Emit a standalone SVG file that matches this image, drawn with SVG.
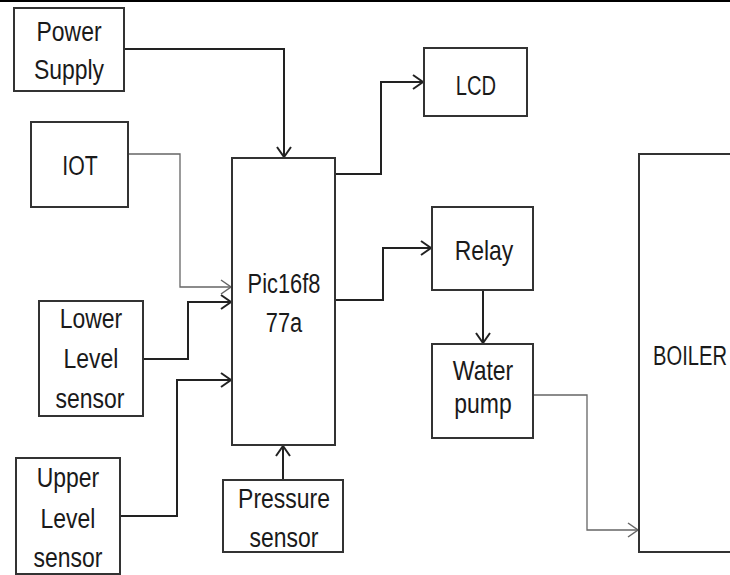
<svg xmlns="http://www.w3.org/2000/svg" width="730" height="575" viewBox="0 0 730 575">
<style>
.box{fill:#fff;stroke:#333;stroke-width:2}
.t{font-family:"Liberation Sans",Arial,sans-serif;font-size:28px;fill:#1a1a1a;text-anchor:middle}
.c{fill:none;stroke:#222;stroke-width:2}
.g{fill:none;stroke:#666;stroke-width:1.3}
</style>
<defs>
<marker id="ab" markerUnits="userSpaceOnUse" markerWidth="14" markerHeight="18" refX="11" refY="8" orient="auto" viewBox="0 0 14 18">
<path d="M1,1 L11,8 L1,15" fill="none" stroke="#222" stroke-width="2"/>
</marker>
<marker id="ag" markerUnits="userSpaceOnUse" markerWidth="14" markerHeight="18" refX="11" refY="8" orient="auto" viewBox="0 0 14 18">
<path d="M1,1 L11,8 L1,15" fill="none" stroke="#666" stroke-width="1.5"/>
</marker>
</defs>
<rect width="730" height="575" fill="#fff"/>
<line x1="0" y1="1" x2="730" y2="1" stroke="#000" stroke-width="2"/>
<g id="connectors">
<path class="c" d="M124,49 H284 V157" marker-end="url(#ab)"/>
<path class="g" d="M128,154 H180 V287 H231" marker-end="url(#ag)"/>
<path class="c" d="M143,359 H188 V302 H231" marker-end="url(#ab)"/>
<path class="c" d="M120,516 H177 V380 H231" marker-end="url(#ab)"/>
<path class="c" d="M283,480 V446" marker-end="url(#ab)"/>
<path class="c" d="M335,174 H381 V82 H423" marker-end="url(#ab)"/>
<path class="c" d="M335,300 H383 V248 H431" marker-end="url(#ab)"/>
<path class="c" d="M483,290 V343" marker-end="url(#ab)"/>
<path class="g" d="M533,395 H587 V530 H638" marker-end="url(#ag)"/>
</g>
<g id="power-supply">
<rect class="box" x="14" y="8" width="110" height="83"/>
<text class="t" transform="translate(69,41) scale(0.82,1)">Power</text>
<text class="t" transform="translate(69,79) scale(0.82,1)">Supply</text>
</g>
<g id="iot">
<rect class="box" x="31" y="122" width="97" height="85"/>
<text class="t" transform="translate(80,175) scale(0.76,1)">IOT</text>
</g>
<g id="lower-level-sensor">
<rect class="box" x="39" y="301" width="104" height="115"/>
<text class="t" transform="translate(91,328) scale(0.82,1)">Lower</text>
<text class="t" transform="translate(91,368) scale(0.82,1)">Level</text>
<text class="t" transform="translate(90,408) scale(0.82,1)">sensor</text>
</g>
<g id="upper-level-sensor">
<rect class="box" x="16" y="458" width="104" height="116"/>
<text class="t" transform="translate(68,487) scale(0.82,1)">Upper</text>
<text class="t" transform="translate(68,528) scale(0.82,1)">Level</text>
<text class="t" transform="translate(68,567) scale(0.82,1)">sensor</text>
</g>
<g id="pic">
<rect class="box" x="232" y="158" width="103" height="287"/>
<text class="t" transform="translate(284,293) scale(0.78,1)">Pic16f8</text>
<text class="t" transform="translate(284,332) scale(0.78,1)">77a</text>
</g>
<g id="pressure-sensor">
<rect class="box" x="223" y="480" width="120" height="72"/>
<text class="t" transform="translate(284,508) scale(0.82,1)">Pressure</text>
<text class="t" transform="translate(284,547) scale(0.82,1)">sensor</text>
</g>
<g id="lcd">
<rect class="box" x="424" y="48" width="103" height="68"/>
<text class="t" transform="translate(476,95) scale(0.72,1)">LCD</text>
</g>
<g id="relay">
<rect class="box" x="432" y="207" width="101" height="83"/>
<text class="t" transform="translate(484,260) scale(0.82,1)">Relay</text>
</g>
<g id="water-pump">
<rect class="box" x="432" y="344" width="101" height="94"/>
<text class="t" transform="translate(483,380) scale(0.82,1)">Water</text>
<text class="t" transform="translate(483,413) scale(0.82,1)">pump</text>
</g>
<g id="boiler">
<rect class="box" x="639" y="154" width="100" height="398"/>
<text class="t" transform="translate(690,365) scale(0.72,1)">BOILER</text>
</g>
</svg>
